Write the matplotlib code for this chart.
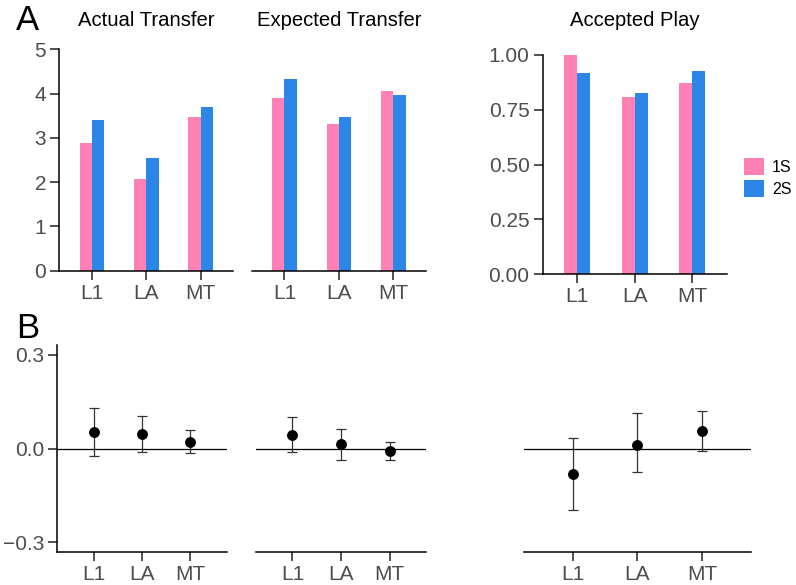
import numpy as np
import matplotlib.pyplot as plt
from matplotlib.patches import Patch

plt.rcParams['font.family'] = ['Liberation Sans', 'DejaVu Sans']

# Data
categories = ["L1", "LA", "MT"]
groups = ["1S", "2S"]

actual_1s = [2.89, 2.06, 3.46]
actual_2s = [3.41, 2.55, 3.69]
expected_1s = [3.89, 3.31, 4.05]
expected_2s = [4.34, 3.48, 3.97]
accepted_1s = [1.00, 0.81, 0.871]
accepted_2s = [0.919, 0.825, 0.926]

# Panel B: difference estimates with intervals
actual_diff = [0.052, 0.048, 0.021]
actual_lo = [-0.025, -0.011, -0.015]
actual_hi = [0.130, 0.103, 0.059]
expected_diff = [0.045, 0.016, -0.009]
expected_lo = [-0.010, -0.035, -0.037]
expected_hi = [0.101, 0.063, 0.020]
accepted_diff = [-0.082, 0.013, 0.055]
accepted_lo = [-0.196, -0.076, -0.009]
accepted_hi = [0.033, 0.115, 0.121]

titles = ["Actual Transfer", "Expected Transfer", "Accepted Play"]

pink = "#FF80B5"
blue = "#2B86E8"
tick_col = "#4D4D4D"

W, H = 796, 585
fig = plt.figure(figsize=(W / 100, H / 100), dpi=100)


def add_ax(x0, x1, y0, y1):
    return fig.add_axes([x0 / W, 1 - y1 / H, (x1 - x0) / W, (y1 - y0) / H])


def style(ax, show_y):
    for s in ["top", "right"]:
        ax.spines[s].set_visible(False)
    ax.spines["bottom"].set_linewidth(1.1)
    ax.spines["left"].set_linewidth(1.1)
    ax.spines["left"].set_visible(show_y)
    ax.tick_params(axis="both", length=6.5, width=1.1, labelsize=15,
                   labelcolor=tick_col, color="#222222", pad=3)
    if not show_y:
        ax.tick_params(axis="y", left=False, labelleft=False)
    ax.set_xticks(x)
    ax.set_xticklabels(categories)


x = np.arange(1, len(categories) + 1)
w = 0.225

# ---- Panel A ----
a_boxes = [(59.3, 233.3, 49.3, 270.7), (251.7, 426, 49.3, 270.7),
           (542.7, 726.7, 55, 274)]
a_data = [(actual_1s, actual_2s), (expected_1s, expected_2s),
          (accepted_1s, accepted_2s)]

for i, (box, (s1, s2)) in enumerate(zip(a_boxes, a_data)):
    ax = add_ax(*box)
    ax.bar(x - w / 2, s1, width=w, color=pink)
    ax.bar(x + w / 2, s2, width=w, color=blue)
    ax.set_xlim(0.4, 3.6)
    style(ax, show_y=(i != 1))
    if i == 2:
        ax.set_ylim(0, 1)
        ax.set_yticks([0, 0.25, 0.5, 0.75, 1.0])
        ax.set_yticklabels(["0.00", "0.25", "0.50", "0.75", "1.00"])
    else:
        ax.set_ylim(0, 5)
        ax.set_yticks(range(6))
    cx = (box[0] + box[1]) / 2
    fig.text(cx / W, 1 - 21 / H, titles[i], ha="center", va="center",
             fontsize=14.6, color="black")

# ---- Panel B ----
b_boxes = [(57.3, 226.7, 345, 552), (256, 426, 345, 552), (524, 751, 345, 552)]
b_data = [(actual_diff, actual_lo, actual_hi),
          (expected_diff, expected_lo, expected_hi),
          (accepted_diff, accepted_lo, accepted_hi)]

for i, (box, (m, lo, hi)) in enumerate(zip(b_boxes, b_data)):
    ax = add_ax(*box)
    m = np.array(m)
    err = [m - np.array(lo), np.array(hi) - m]
    ax.axhline(0, color="black", lw=0.9, zorder=1)
    ax.errorbar(x, m, yerr=err, fmt="o", color="black", ecolor="#333333",
                elinewidth=0.9, capsize=3.5, capthick=0.9, markersize=6.8,
                zorder=3)
    ax.set_xlim(0.25, 3.75)
    ax.set_ylim(-0.331, 0.332)
    style(ax, show_y=(i == 0))
    ax.set_yticks([-0.3, 0.0, 0.3])
    ax.set_yticklabels(["\u22120.3", "0.0", "0.3"])

# panel letters
fig.text(16 / W, 1 - 21 / H, "A", fontsize=25, ha="left", va="center")
fig.text(16 / W, 1 - 328 / H, "B", fontsize=25, ha="left", va="center")

# legend
handles = [Patch(facecolor=pink, edgecolor="none"),
           Patch(facecolor=blue, edgecolor="none")]
fig.legend(handles, groups, loc="upper left",
           bbox_to_anchor=(744 / W, 1 - 158 / H), frameon=False,
           fontsize=11.5, handlelength=1.25, handleheight=1.25,
           labelspacing=0.31, handletextpad=0.5, borderpad=0,
           borderaxespad=0, labelcolor="black")

fig.savefig("out.png", dpi=100)
